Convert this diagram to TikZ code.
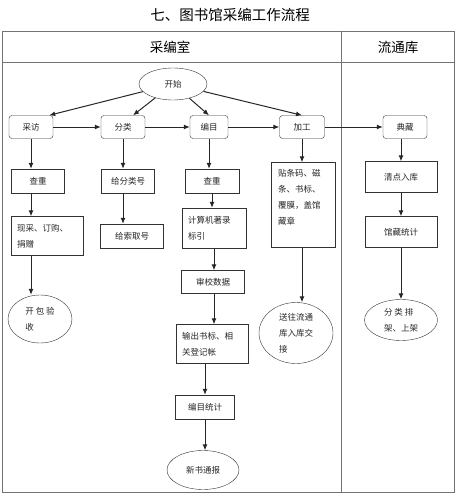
\documentclass[tikz,border=0pt]{standalone}
\usepackage{fontspec}
\setmainfont{Noto Sans CJK SC}
\usetikzlibrary{arrows,arrows.meta,positioning,shapes.geometric}

\tikzset{
    box/.style   = {draw=black!80, rectangle, fill=white, inner sep=2pt, text=black!85,
                    font=\fontsize{8.5}{16}\selectfont},
    stage/.style = {box, rounded corners=3pt, minimum width=44, minimum height=23},
    term/.style  = {draw=black!80, ellipse, fill=white, inner sep=0pt, text=black!85,
                    font=\fontsize{8.5}{16}\selectfont},
    flow/.style  = {-{Latex[length=6pt,width=5pt]}, line width=1pt, black!85},
    frame/.style = {draw=black!55, line width=0.8pt},
}

\begin{document}
\begin{tikzpicture}[x=1pt, y=-1pt]
    \useasboundingbox (0,0) rectangle (455,500);

    % frame of the two departments
    \draw[frame] (2,31) rectangle (454,492);
    \draw[frame] (2,62) -- (454,62);
    \draw[frame] (341,31) -- (341,492);

    \node (title) at (230,15) {\fontsize{14.5}{16}\selectfont 七、图书馆采编工作流程};
    \node (h_cb)  at (170,47) {\fontsize{13.5}{16}\selectfont 采编室};
    \node (h_lt)  at (398,47) {\fontsize{13.5}{16}\selectfont 流通库};

    % start and the five stages
    \node[term, minimum width=68, minimum height=32]  (start) at (173,84)  {开始};
    \node[stage]                   (caifang)  at (31,127)  {采访};
    \node[stage]                   (fenlei)   at (123,127) {分类};
    \node[stage, minimum width=38] (bianmu)   at (209,127) {编目};
    \node[stage, minimum width=45] (jiagong)  at (302,127) {加工};
    \node[stage]                   (diancang) at (405,127) {典藏};

    % second row
    \node[box, minimum width=53, minimum height=24] (chachong_a) at (38,181)  {查重};
    \node[box, minimum width=53, minimum height=24] (fenleihao)  at (128,181) {给分类号};
    \node[box, minimum width=54, minimum height=24] (chachong_b) at (212,181) {查重};
    \node[box, minimum width=64, minimum height=85, text width=50, align=left]
                                                    (tiema)      at (303,205) {贴条码、磁\\条、书标、\\覆膜，盖馆\\藏章\\~};
    \node[box, minimum width=72, minimum height=31] (qingdian)   at (401,177) {清点入库};

    % third row
    \node[box, minimum width=72, minimum height=39, text width=60, align=left]
                                                    (xiancai)    at (47,236)  {现采、订购、\\捐赠};
    \node[box, minimum width=63, minimum height=24] (suoquhao)   at (132,236) {给索取号};
    \node[box, minimum width=64, minimum height=40, text width=52, align=left]
                                                    (zhulu)      at (214,228) {计算机著录\\标引};
    \node[box, minimum width=72, minimum height=31] (guancang)   at (401,232) {馆藏统计};

    % lower part
    \node[box, minimum width=63, minimum height=23] (shenjiao)   at (213,282) {审校数据};
    \node[term, minimum width=64, minimum height=48, align=left]
                                                    (yanshou)    at (40,319)  {开 包 验\\收};
    \node[term, minimum width=74, minimum height=61, align=left]
                                                    (songwang)   at (296,333) {送往流通\\库入库交\\接};
    \node[term, minimum width=73, minimum height=41, align=left]
                                                    (paijia)     at (401,320) {分 类 排\\架、上架};
    \node[box, minimum width=72, minimum height=39, text width=60, align=left]
                                                    (shuchu)     at (212,344) {输出书标、相\\关登记帐};
    \node[box, minimum width=59, minimum height=24] (tongji)     at (205,407) {编目统计};
    \node[term, minimum width=72, minimum height=39] (tongbao)   at (203,470) {新书通报};

    \draw[flow] (start) -- ([xshift=-4pt]caifang.north east);
    \draw[flow] (start) -- ([xshift=10pt]fenlei.north);
    \draw[flow] (start) -- (bianmu.north);
    \draw[flow] (start) -- (jiagong.north);

    \draw[flow] (caifang) -- (fenlei);
    \draw[flow] (fenlei)  -- (bianmu);
    \draw[flow] (bianmu)  -- (jiagong);
    \draw[flow] (jiagong) -- (diancang);

    \draw[flow] (caifang) -- (caifang |- chachong_a.north);
    \draw[flow] (caifang |- chachong_a.south) -- (caifang |- xiancai.north);
    \draw[flow] (caifang |- xiancai.south) -- (caifang |- yanshou.north);

    \draw[flow] (fenlei) -- (fenlei |- fenleihao.north);
    \draw[flow] (fenlei |- fenleihao.south) -- (fenlei |- suoquhao.north);

    \draw[flow] (bianmu) -- (bianmu |- chachong_b.north);
    \draw[flow] (chachong_b) -- (chachong_b |- zhulu.north);
    \draw[flow] (zhulu) -- (zhulu |- shenjiao.north);
    \draw[flow] (zhulu |- shenjiao.south) -- (zhulu |- shuchu.north);
    \draw[flow] (tongji |- shuchu.south) -- (tongji.north);
    \draw[flow] (tongji) -- (tongji |- tongbao.north);

    \draw[flow] (jiagong) -- (jiagong |- tiema.north);
    \draw[flow] (jiagong |- tiema.south) -- (jiagong |- songwang.north);

    \draw[flow] (qingdian |- diancang.south) -- (qingdian.north);
    \draw[flow] (qingdian) -- (qingdian |- guancang.north);
    \draw[flow] (guancang) -- (guancang |- paijia.north);
\end{tikzpicture}
\end{document}
